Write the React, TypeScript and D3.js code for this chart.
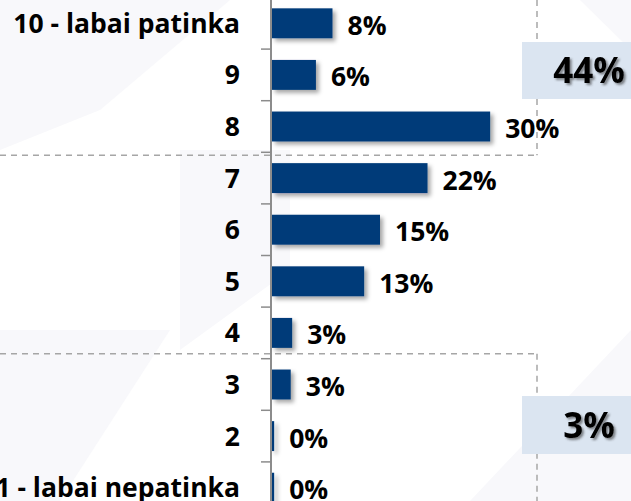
import React from 'react'
import * as d3 from 'd3'

// survey answers, top to bottom
const categories = ['10 - labai patinka', '9', '8', '7', '6', '5', '4', '3', '2', '1 - labai nepatinka']
// share of answers, %
const shares = [8.4, 6.1, 30.3, 21.6, 15.0, 12.8, 2.8, 2.6, 0.3, 0.3]
// grouped totals: top three answers and bottom three answers
const groups = [
  { name: 'top', members: ['10 - labai patinka', '9', '8'] },
  { name: 'bottom', members: ['3', '2', '1 - labai nepatinka'] },
]

const W = 631
const H = 501
const axisX = 271
const groupEdgeX = 537
const font = '"Open Sans", Calibri, Carlito, sans-serif'

export default function App() {
  const x = d3.scaleLinear().domain([0, 50]).range([axisX, W])
  const y = d3.scaleBand<string>()
    .domain(categories)
    .range([-2.5, 513.5])
    .paddingInner(0.42)
    .paddingOuter(0.21)

  const step = y.step()
  const rows = categories.map((c, i) => ({ cat: c, v: shares[i] }))
  const rounded = (v: number) => Math.round(v)
  const totals = groups.map(g =>
    d3.sum(g.members, m => rounded(shares[categories.indexOf(m)])))

  // boundaries between bands (for the small ticks)
  const gap = step * y.paddingInner() / 2
  const bounds = categories.slice(1).map(c => (y(c) as number) - gap)

  const topLineY = (y('7') as number) - gap + 3
  const bottomLineY = (y('3') as number) - gap - 5

  return (
    <svg width={W} height={H} style={{ position: 'absolute', left: 0, top: 0, background: '#fff' }}>
      <defs>
        <filter id="barShadow" x="-10%" y="-20%" width="130%" height="160%">
          <feDropShadow dx="3" dy="3" stdDeviation="2" floodColor="#000" floodOpacity="0.35" />
        </filter>
        <filter id="txtShadow" x="-10%" y="-20%" width="130%" height="160%">
          <feDropShadow dx="2" dy="2" stdDeviation="1" floodColor="#333" floodOpacity="0.55" />
        </filter>
      </defs>

      {/* faint background watermark */}
      <g fill="#f8f8fb">
        <polygon points="0,0 230,0 100,110 0,150" />
        <polygon points="180,150 290,150 290,270 180,350" />
        <polygon points="0,330 170,330 60,501 0,501" />
        <polygon points="470,501 631,330 631,501" />
        <polygon points="580,0 631,0 631,50" />
      </g>

      {/* dashed group frames */}
      <g stroke="#a6a6a6" strokeWidth={1.5} strokeDasharray="6,5" fill="none">
        <line x1={0} x2={groupEdgeX} y1={topLineY} y2={topLineY} />
        <line x1={groupEdgeX} x2={groupEdgeX} y1={0} y2={topLineY} />
        <line x1={0} x2={groupEdgeX} y1={bottomLineY} y2={bottomLineY} />
        <line x1={groupEdgeX} x2={groupEdgeX} y1={bottomLineY} y2={H} />
      </g>

      {/* bars */}
      <g filter="url(#barShadow)">
        {rows.map(r => (
          <rect key={r.cat} x={x(0) + 1} y={y(r.cat)} width={Math.max(1.5, x(r.v) - x(0))}
            height={y.bandwidth()} fill="#003b79" />
        ))}
      </g>

      {/* axis */}
      <line x1={axisX} x2={axisX} y1={0} y2={H} stroke="#8c8c8c" strokeWidth={2} />
      {bounds.map((b, i) => (
        <line key={i} x1={axisX - 10} x2={axisX} y1={b} y2={b} stroke="#8c8c8c" strokeWidth={1.5} />
      ))}

      {/* category labels */}
      {rows.map(r => (
        <text key={r.cat} x={240} y={(y(r.cat) as number) + y.bandwidth() / 2} dy="0.36em"
          textAnchor="end" fontFamily={font} fontWeight="bold" fontSize={26.5} fill="#000">
          {r.cat}
        </text>
      ))}

      {/* value labels */}
      {rows.map(r => (
        <text key={r.cat} x={x(r.v) + 16} y={(y(r.cat) as number) + y.bandwidth() / 2 + 2} dy="0.36em"
          fontFamily={font} fontWeight="bold" fontSize={26.5} fill="#000">
          {rounded(r.v)}%
        </text>
      ))}

      {/* totals boxes */}
      {[{ y0: 42, h: 57 }, { y0: 396, h: 58 }].map((b, i) => (
        <g key={groups[i].name}>
          <rect x={522} y={b.y0} width={W - 522} height={b.h} fill="#dbe5f1" />
          <text x={589} y={b.y0 + b.h / 2} dy="0.36em" textAnchor="middle"
            fontFamily={font} fontWeight="bold" fontSize={35} fill="#000" filter="url(#txtShadow)">
            {totals[i]}%
          </text>
        </g>
      ))}
    </svg>
  )
}
